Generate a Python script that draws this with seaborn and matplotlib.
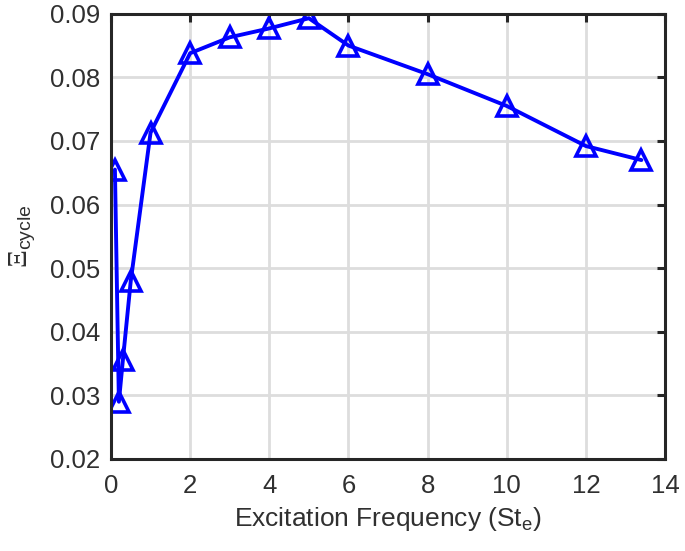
import numpy as np
import pandas as pd
import matplotlib
matplotlib.use("Agg")
import matplotlib.pyplot as plt
import seaborn as sns

# valeurs
st_e = [0.1, 0.2, 0.3, 0.5, 1, 2, 3, 4, 5, 6, 8, 10, 12, 13.4]
xi_cycle = [0.0655, 0.0290, 0.0355, 0.0480, 0.0713, 0.0838, 0.0863, 0.0877,
            0.0893, 0.0850, 0.0805, 0.0755, 0.0692, 0.0670]
x_ticks = [0, 2, 4, 6, 8, 10, 12, 14]
y_ticks = [0.02, 0.03, 0.04, 0.05, 0.06, 0.07, 0.08, 0.09]

df = pd.DataFrame({"st": st_e, "xi": xi_cycle})

sns.set_style("white")
plt.rcParams['font.family'] = ['Liberation Sans', 'DejaVu Sans']
plt.rcParams['mathtext.fontset'] = 'custom'
plt.rcParams['mathtext.rm'] = 'Liberation Serif'
plt.rcParams['mathtext.sf'] = 'Liberation Sans'

fig = plt.figure(figsize=(6.85, 5.51), dpi=100)
ax = fig.add_axes([0.162, 0.167, 0.809, 0.808])

sns.lineplot(data=df, x="st", y="xi", ax=ax, sort=False, color="#0000ff",
             linewidth=2.8, marker="^", markersize=15, markerfacecolor="none",
             markeredgecolor="#0000ff", markeredgewidth=2.6)

ax.set_xlim(0, 14)
ax.set_ylim(0.02, 0.09)
ax.set_xticks(x_ticks)
ax.set_yticks(y_ticks)
ax.set_yticklabels([f"{v:.2f}" for v in y_ticks])
ax.grid(True, color="#dddddd", linewidth=2)
ax.set_axisbelow(True)

for s in ax.spines.values():
    s.set_color("#262626")
    s.set_linewidth(2.2)
ax.tick_params(direction="in", length=6, width=2.2, color="#262626",
               labelsize=18.5, labelcolor="#303030", top=True, right=True)
ax.tick_params(axis="x", pad=11)
ax.tick_params(axis="y", pad=8)

ax.set_xlabel(r"Excitation Frequency (St$_{\mathsf{e}}$)", fontsize=19,
              color="#303030", labelpad=5)
ax.set_ylabel(r"$\Xi_{\mathsf{cycle}}$", fontsize=20, color="#303030",
              labelpad=8)

fig.savefig("out.png", dpi=100)
